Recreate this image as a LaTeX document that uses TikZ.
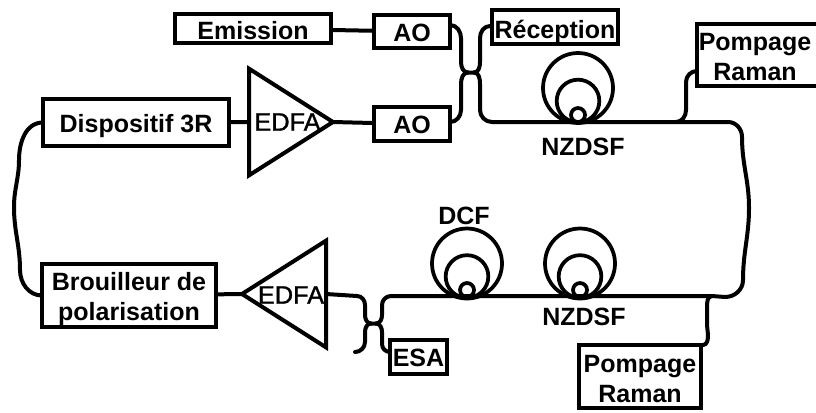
\documentclass[tikz,border=0pt]{standalone}
\usepackage{fontspec}
\setmainfont{Liberation Sans}
\usetikzlibrary{shapes.geometric,positioning}

\begin{document}
\begin{tikzpicture}[
x=0.75pt,y=-0.75pt,
box/.style={
  draw,
  line width=3.3pt,
  outer sep=0pt,
  inner sep=0pt,
  align=center,
  font=\fontsize{18.75}{22.5}\selectfont\bfseries
},
drop/.style={text height=#1,text depth=0pt},
amp/.style={
  draw,
  line width=3pt,
  isosceles triangle,
  isosceles triangle stretches,
  minimum height=63pt,
  minimum width=80pt,
  outer sep=0pt,
  inner sep=0pt
},
amplabel/.style={font=\fontsize{19}{22}\selectfont\addfontfeature{FakeBold=1.2},inner sep=0pt},
fibrelabel/.style={font=\fontsize{18.75}{22.5}\selectfont\bfseries,inner sep=0pt},
fibre/.style={line width=3pt,line cap=round,line join=round},
spool/.style={draw,line width=2.8pt,circle,outer sep=0pt,inner sep=0pt}
]
\useasboundingbox (0,0) rectangle (816,412);

\node[box,drop=15.8pt,minimum width=117pt,minimum height=21.75pt] (emission) at (253,28.5) {Emission};
\node[box,drop=14.5pt,minimum width=57pt,minimum height=24.75pt] (aoTop) at (412,31.5) {AO};
\node[box,drop=14.5pt,minimum width=57pt,minimum height=25.5pt] (aoBottom) at (412,124) {AO};
\node[box,drop=16.5pt,minimum width=94.5pt,minimum height=25.5pt] (reception) at (555,27) {Réception};
\node[box,drop=38.2pt,minimum width=91.5pt,minimum height=46.5pt] (raman1) at (758,55) {Pompage\hspace*{4.5pt}\\Raman\hspace*{4.5pt}};
\node[box,drop=39pt,minimum width=91.5pt,minimum height=47.25pt] (raman2) at (640,376.5) {Pompage\\Raman};
\node[box,drop=15.5pt,minimum width=139.5pt,minimum height=35.25pt] (regen) at (136,122.5) {Dispositif 3R};
\node[box,drop=38.2pt,minimum width=130.5pt,minimum height=47.25pt] (scrambler) at (129,295.5) {Brouilleur de\\polarisation};
\node[box,drop=14.5pt,minimum width=42.75pt,minimum height=25.5pt] (esa) at (418.5,357) {ESA};

\node[amp,anchor=apex] (edfa1) at (333,122) {};
\node[amp,anchor=apex,shape border rotate=180] (edfa2) at (242,294) {};
\node[amplabel] (edfa1text) at (287.5,122) {EDFA};
\node[amplabel] (edfa2text) at (291,295) {EDFA};

\node[spool,minimum size=52.5pt] (nzdsf1a) at (578,88) {};
\node[spool,minimum size=32pt] (nzdsf1b) at (578,101) {};
\node[spool,minimum size=10.5pt] (nzdsf1c) at (578,115) {};
\node[spool,minimum size=52.5pt] (dcfa) at (467,263.5) {};
\node[spool,minimum size=32pt] (dcfb) at (467,276.5) {};
\node[spool,minimum size=10.5pt] (dcfc) at (467,290) {};
\node[spool,minimum size=52.5pt] (nzdsf2a) at (580,263.5) {};
\node[spool,minimum size=32pt] (nzdsf2b) at (580,276.5) {};
\node[spool,minimum size=10.5pt] (nzdsf2c) at (580,290) {};

\node[fibrelabel] (nzdsf1) at (583,147) {NZDSF};
\node[fibrelabel] (dcf) at (464,216) {DCF};
\node[fibrelabel] (nzdsf2) at (584,317) {NZDSF};

\coordinate (aoTopOut) at (450,25);
\coordinate (aoBottomOut) at (450,122);
\coordinate (rxIn) at (490,26);
\coordinate (ramanOne) at (697,71);
\coordinate (ramanTwo) at (703,345);
\coordinate (cplTopA) at (468,72.5);
\coordinate (cplTopB) at (474,72.5);
\coordinate (cplLowA) at (371,323.5);
\coordinate (cplLowB) at (376,323.5);
\coordinate (tapTop) at (676,122);
\coordinate (tapLow) at (712,296);
\coordinate (esaIn) at (390,352);
\coordinate (deadEnd) at (355,352);

\draw[fibre] (emission) -- (aoTop);
\draw[fibre] (regen) -- (edfa1.lower side);
\draw[fibre] (edfa1.apex) -- (aoBottom);
\draw[fibre] (scrambler) -- (edfa2.apex);
\draw[fibre] (regen.west) to[out=180,in=90] (19,160) to[out=-90,in=90] (14,207)
  to[out=-90,in=90] (20,270) to[out=-90,in=180] (scrambler.west);
\draw[fibre] (aoTopOut) to[out=0,in=90] (461,38) -- (461,62) to[out=-90,in=180] (cplTopA) -- (cplTopB)
  to[out=0,in=-90] (480,62) -- (480,38) to[out=90,in=180] (rxIn);
\draw[fibre] (aoBottomOut) to[out=0,in=-90] (461,110) -- (461,84) to[out=90,in=180] (cplTopA);
\draw[fibre] (cplTopB) to[out=0,in=90] (480,84) -- (480,110) to[out=-90,in=180] (492,122) -- (tapTop)
  -- (728,122) to[out=0,in=90] (742,137) to[out=-90,in=90] (749,208)
  to[out=-90,in=90] (743,280) to[out=-90,in=0] (725,297) -- (tapLow) -- (391,296)
  to[out=180,in=90] (382,305) -- (382,315) to[out=-90,in=0] (cplLowB) -- (cplLowA)
  to[out=180,in=-90] (365,315) -- (365,305) to[out=90,in=0] (357,296) -- (edfa2.lower side);
\draw[fibre] (cplLowA) to[out=180,in=90] (365,332) -- (365,342) to[out=-90,in=0] (deadEnd);
\draw[fibre] (cplLowB) to[out=0,in=90] (382,332) -- (382,344) to[out=-90,in=180] (esaIn);
\draw[fibre] (tapTop) to[out=0,in=-90] (686,110) -- (686,82) to[out=90,in=180] (ramanOne);
\draw[fibre] (tapLow) to[out=180,in=90] (707,308) -- (707,325) to[out=-90,in=90] (708,335)
  to[out=-90,in=0] (ramanTwo);
\end{tikzpicture}
\end{document}
